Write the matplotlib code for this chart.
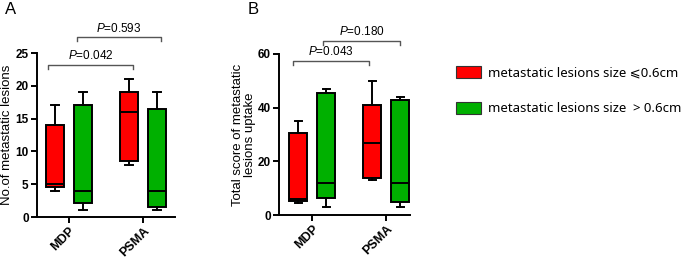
import matplotlib
matplotlib.use("Agg")
import matplotlib.pyplot as plt
from matplotlib.patches import Patch

plt.rcParams['font.family'] = ['Liberation Sans', 'DejaVu Sans', 'Noto Sans CJK SC']
plt.rcParams['mathtext.fontset'] = 'custom'
plt.rcParams['mathtext.it'] = 'Liberation Sans:italic'
plt.rcParams['mathtext.rm'] = 'Liberation Sans'

groups = ["MDP", "PSMA"]
series_labels = ["metastatic lesions size \u2a7d0.6cm", "metastatic lesions size  > 0.6cm"]
colors = ["#ff0000", "#00b000"]

# five-number summaries: [min, q1, median, q3, max] for MDP, PSMA
A_small = [[4, 4.6, 5, 14, 17], [8, 8.6, 16, 19, 21]]
A_large = [[1, 2.1, 4, 17, 19], [1, 1.6, 4, 16.5, 19]]
B_small = [[4.5, 5.2, 6, 30.5, 35], [13, 13.7, 27, 41, 50]]
B_large = [[3, 6.5, 12, 45.5, 47], [3, 5, 12, 43, 44]]

A_ylabel = "No.of metastatic lesions"
B_ylabel = "Total score of metastatic\nlesions uptake"
A_yticks = [0, 5, 10, 15, 20, 25]
B_yticks = [0, 20, 40, 60]
A_pvals = ["0.042", "0.593"]
B_pvals = ["0.043", "0.180"]

fig = plt.figure(figsize=(6.85, 2.62), dpi=100)
axA = fig.add_axes([37/685, 1-217/262, 138/685, 164/262])
axB = fig.add_axes([279/685, 1-215/262, 131/685, 161/262])


def stats(five):
    return dict(whislo=five[0], q1=five[1], med=five[2], q3=five[3], whishi=five[4], fliers=[])


def draw(ax, small, large, ylim, yticks, ylabel, pvals, brackets, xlim, labelpad):
    off = 0.19
    for series, col, sgn in [(small, colors[0], -1), (large, colors[1], 1)]:
        st = [stats(f) for f in series]
        pos = [i + sgn * off for i in range(len(groups))]
        ax.bxp(st, positions=pos, widths=0.24, patch_artist=True, showfliers=False,
               capwidths=0.1,
               boxprops=dict(facecolor=col, edgecolor='black', linewidth=1.4),
               medianprops=dict(color='black', linewidth=1.4),
               whiskerprops=dict(color='black', linewidth=1.4),
               capprops=dict(color='black', linewidth=1.4), manage_ticks=False)
    ax.set_xlim(*xlim)
    ax.set_ylim(*ylim)
    ax.set_yticks(yticks)
    ax.set_xticks(range(len(groups)))
    ax.set_xticklabels(groups, rotation=45, ha='right', rotation_mode='anchor',
                       fontweight='bold', fontsize=9)
    for t in ax.get_yticklabels():
        t.set_fontweight('bold')
        t.set_fontsize(8.5)
    for s in ['top', 'right']:
        ax.spines[s].set_visible(False)
    for s in ['left', 'bottom']:
        ax.spines[s].set_linewidth(1.4)
    ax.tick_params(direction='out', length=4.5, width=1.4, pad=1.5)
    ax.set_ylabel(ylabel, fontsize=9.5, labelpad=labelpad, linespacing=1.0)
    ax.patch.set_alpha(0)
    # significance brackets
    for (x0, x1, y, dip), p in zip(brackets, pvals):
        ax.plot([x0, x0, x1, x1], [y - dip, y, y, y - dip], color='#555555', lw=1,
                clip_on=False)
        ax.text((x0 + x1) / 2, y + dip * 0.6, "$P$=" + p, ha='center', va='bottom',
                fontsize=8.5, clip_on=False)


draw(axA, A_small, A_large, (0, 25), A_yticks, A_ylabel, A_pvals,
     [(-0.28, 0.86, 23.2, 0.6), (0.11, 1.24, 27.4, 0.6)], (-0.43, 1.43), 1.5)
draw(axB, B_small, B_large, (0, 60), B_yticks, B_ylabel, B_pvals,
     [(-0.26, 0.77, 57.5, 1.5), (0.15, 1.18, 65.0, 1.5)], (-0.45, 1.32), 1)

fig.text(5/685, 1-10/262, "A", fontsize=12, va='center', ha='left')
fig.text(248/685, 1-10/262, "B", fontsize=12, va='center', ha='left')

handles = [Patch(facecolor=c, edgecolor='#333333', linewidth=0.8) for c in colors]
fig.legend(handles, series_labels, loc='upper left', bbox_to_anchor=(456/685, 1-66/262),
           frameon=False, handlelength=1.9, handleheight=1.06,
           labelspacing=1.67, handletextpad=0.53, borderpad=0, borderaxespad=0,
           prop={'family': ['Noto Sans', 'DejaVu Sans'], 'size': 9.5})

fig.savefig("out.png", dpi=100)
